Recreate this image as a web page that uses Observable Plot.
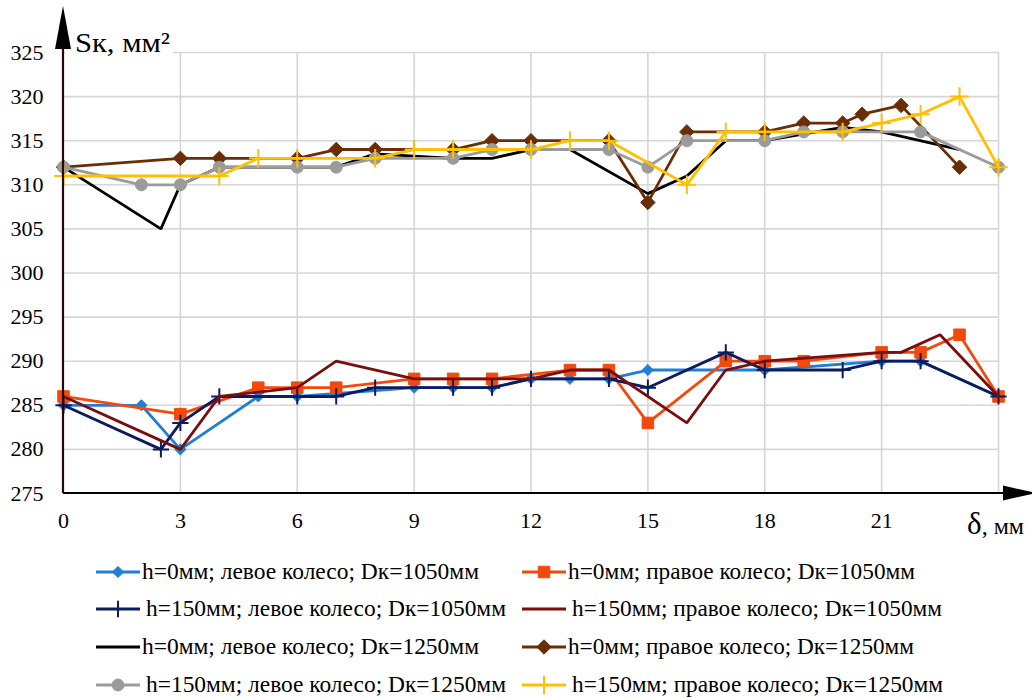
<!DOCTYPE html>
<html><head><meta charset="utf-8">
<script src="https://cdn.jsdelivr.net/npm/d3@7"></script>
<script src="https://cdn.jsdelivr.net/npm/@observablehq/plot@0.6"></script>
<style>
body{margin:0;background:#fff;font-family:"Liberation Serif", serif;}
#wrap{position:relative;width:1032px;height:699px;overflow:hidden;background:#fff;}
#wrap svg{display:block;}
</style></head><body><div id="wrap"></div>
<script>
const FONT = "Liberation Serif";
// ---- data ----
const xTicks = [0, 3, 6, 9, 12, 15, 18, 21];
const xGrid = [3, 6, 9, 12, 15, 18, 21, 24];
const yTicks = [275, 280, 285, 290, 295, 300, 305, 310, 315, 320, 325];

const seriesNames = [
  "h=0мм; левое колесо; Dк=1050мм",
  "h=0мм; правое колесо; Dк=1050мм",
  "h=150мм; левое колесо; Dк=1050мм",
  "h=150мм; правое колесо; Dк=1050мм",
  "h=0мм; левое колесо; Dк=1250мм",
  "h=0мм; правое колесо; Dк=1250мм",
  "h=150мм; левое колесо; Dк=1250мм",
  "h=150мм; правое колесо; Dк=1250мм"
];
const seriesColors = ["#1f7fd4", "#f24a0c", "#0c1c5e", "#7a0e0e", "#000000", "#6b2d05", "#9b9b9b", "#ffc000"];
const seriesSymbols = ["diamond2", "square", "plus", null, null, "diamond2", "circle", "plus"];
const seriesR = [5, 6.5, 5.3, 0, 0, 6.5, 6, 6];

const d1X = [0, 2, 3, 5, 6, 9, 10, 11, 12, 13, 14, 15, 18, 21, 22, 24];
const d1Y = [285, 285, 280, 286, 286, 287, 287, 287, 288, 288, 288, 289, 289, 290, 290, 286];
const d2X = [0, 3, 5, 6, 7, 9, 10, 11, 13, 14, 15, 17, 18, 19, 21, 22, 23, 24];
const d2Y = [286, 284, 287, 287, 287, 288, 288, 288, 289, 289, 283, 290, 290, 290, 291, 291, 293, 286];
const d3X = [0, 2.5, 3, 4, 6, 7, 8, 10, 11, 12, 14, 15, 17, 18, 20, 21, 22, 24];
const d3Y = [285, 280, 283, 286, 286, 286, 287, 287, 287, 288, 288, 287, 291, 289, 289, 290, 290, 286];
const d4X = [0, 3, 4, 6, 7, 9, 10, 11, 12, 13, 14, 16, 17, 18, 21, 21.5, 22.5, 24];
const d4Y = [286, 280, 286, 287, 290, 288, 288, 288, 288, 289, 289, 283, 289, 290, 291, 291, 293, 286];
const d5X = [0, 2.5, 3, 4, 6, 7, 8, 10, 11, 12, 13, 15, 16, 17, 18, 20, 21, 23];
const d5Y = [312, 305, 310, 312, 312, 312, 313.5, 313, 313, 314, 314, 309, 311, 315, 315, 316.5, 316, 314];
const d6X = [0, 3, 4, 6, 7, 8, 10, 11, 12, 14, 15, 16, 18, 19, 20, 20.5, 21.5, 23];
const d6Y = [312, 313, 313, 313, 314, 314, 314, 315, 315, 315, 308, 316, 316, 317, 317, 318, 319, 312];
const d7X = [0, 2, 3, 4, 6, 7, 8, 10, 11, 12, 14, 15, 16, 18, 19, 20, 22, 24];
const d7Y = [312, 310, 310, 312, 312, 312, 313, 313, 314, 314, 314, 312, 315, 315, 316, 316, 316, 312];
const d8X = [0, 4, 5, 6, 8, 9, 10, 12, 13, 14, 16, 17, 18, 20, 21, 22, 23, 24];
const d8Y = [311, 311, 313, 313, 313, 314, 314, 314, 315, 315, 310, 316, 316, 316, 317, 318, 320, 312];

const allX = [d1X, d2X, d3X, d4X, d5X, d6X, d7X, d8X];
const allY = [d1Y, d2Y, d3Y, d4Y, d5Y, d6Y, d7Y, d8Y];

// ---- build table ----
const rows = [];
allX.forEach((xs, i) => xs.forEach((x, j) => rows.push({s: i, x, y: allY[i][j]})));

const seriesMarks = [];
seriesNames.forEach((name, i) => {
  const data = rows.filter(d => d.s === i);
  seriesMarks.push(Plot.line(data, {x: "x", y: "y", stroke: seriesColors[i], strokeWidth: 2.8, strokeLinejoin: "miter"}));
  const sym = seriesSymbols[i];
  if (sym) {
    const isStroke = sym === "plus";
    seriesMarks.push(Plot.dot(data, {
      x: "x", y: "y", symbol: sym, r: seriesR[i],
      fill: isStroke ? "none" : seriesColors[i],
      stroke: seriesColors[i], strokeWidth: isStroke ? 2 : 1
    }));
  }
});

const chart = Plot.plot({
  width: 1032, height: 548,
  marginLeft: 63, marginRight: 34, marginTop: 52, marginBottom: 55,
  x: {domain: [0, 24]},
  y: {domain: [275, 325]},
  style: {fontFamily: FONT, fontSize: "22px", color: "#000", background: "#fff", overflow: "visible"},
  marks: [
    Plot.gridX({ticks: xGrid, stroke: "#d6d6d6", strokeOpacity: 1, strokeWidth: 1.6}),
    Plot.gridY({ticks: yTicks.filter(v => v > 275), stroke: "#d6d6d6", strokeOpacity: 1, strokeWidth: 1.6}),
    Plot.axisX({ticks: xTicks, tickSize: 0, tickPadding: 19, label: null, fontSize: 22}),
    Plot.axisY({ticks: yTicks, tickSize: 0, tickPadding: 20, label: null, fontSize: 22}),
    ...seriesMarks
  ]
});
document.getElementById("wrap").appendChild(chart);

// ---- axis lines, arrows and titles ----
const sx = chart.scale("x"), sy = chart.scale("y");
const svg = d3.select(chart);
const x0 = sx.apply(0), yB = sy.apply(275), yTop = sy.apply(325);
const deco = svg.append("g").attr("text-anchor", "start");
deco.append("rect").attr("x", x0 + 2).attr("y", yTop - 4).attr("width", 108).attr("height", 8).attr("fill", "#fff");
deco.append("line").attr("x1", x0).attr("x2", x0).attr("y1", yB).attr("y2", 20)
  .attr("stroke", "#2a0606").attr("stroke-width", 2.2);
deco.append("path").attr("d", `M${x0},6L${x0 - 8},49L${x0 + 8},49Z`).attr("fill", "#000");
deco.append("line").attr("x1", x0).attr("x2", 1008).attr("y1", yB).attr("y2", yB)
  .attr("stroke", "#000").attr("stroke-width", 2);
deco.append("path").attr("d", `M1003,${yB - 7.5}L1036,${yB}L1003,${yB + 7.5}Z`).attr("fill", "#000");
deco.append("text").attr("x", x0 + 12).attr("y", yTop).attr("text-anchor", "start")
  .attr("font-family", FONT).attr("font-size", 28).attr("fill", "#000")
  .attr("textLength", 95).attr("lengthAdjust", "spacingAndGlyphs")
  .text("Sк, мм²");
const dt = deco.append("text").attr("x", 1024).attr("y", yB + 41).attr("text-anchor", "end")
  .attr("font-family", FONT).attr("fill", "#000");
dt.append("tspan").attr("font-size", 31).text("δ");
dt.append("tspan").attr("font-size", 24).text(", мм");

// ---- legend below the chart ----
const leg = d3.select("#wrap").append("svg").attr("width", 1032).attr("height", 151)
  .style("display", "block");
const rowY = [24, 61, 99, 137];
const colSw = [96, 522];
const textLen = [337, 347, 360, 370, 337, 346, 360, 371];
const symMap = {diamond2: d3.symbolDiamond2, square: d3.symbolSquare, plus: d3.symbolPlus, circle: d3.symbolCircle};
seriesNames.forEach((name, i) => {
  const col = i % 2, row = Math.floor(i / 2);
  const y = rowY[row], xs = colSw[col];
  const g = leg.append("g");
  g.append("line").attr("x1", xs).attr("x2", xs + 44).attr("y1", y).attr("y2", y)
    .attr("stroke", seriesColors[i]).attr("stroke-width", 2.8);
  const sym = seriesSymbols[i];
  if (sym) {
    const r = seriesR[i];
    const isStroke = sym === "plus";
    g.append("path").attr("transform", `translate(${xs + 22},${y})`)
      .attr("d", d3.symbol(symMap[sym], Math.PI * r * r)())
      .attr("fill", isStroke ? "none" : seriesColors[i])
      .attr("stroke", seriesColors[i]).attr("stroke-width", isStroke ? 2 : 1);
  }
  const tx = xs + 46 + (name.startsWith("h=150") ? 4 : 0);
  g.append("text").attr("x", tx).attr("y", y + 7).attr("text-anchor", "start")
    .attr("font-family", FONT).attr("font-size", 24).attr("fill", "#000")
    .attr("textLength", textLen[i]).attr("lengthAdjust", "spacingAndGlyphs")
    .text(name);
});
</script>
</body></html>
